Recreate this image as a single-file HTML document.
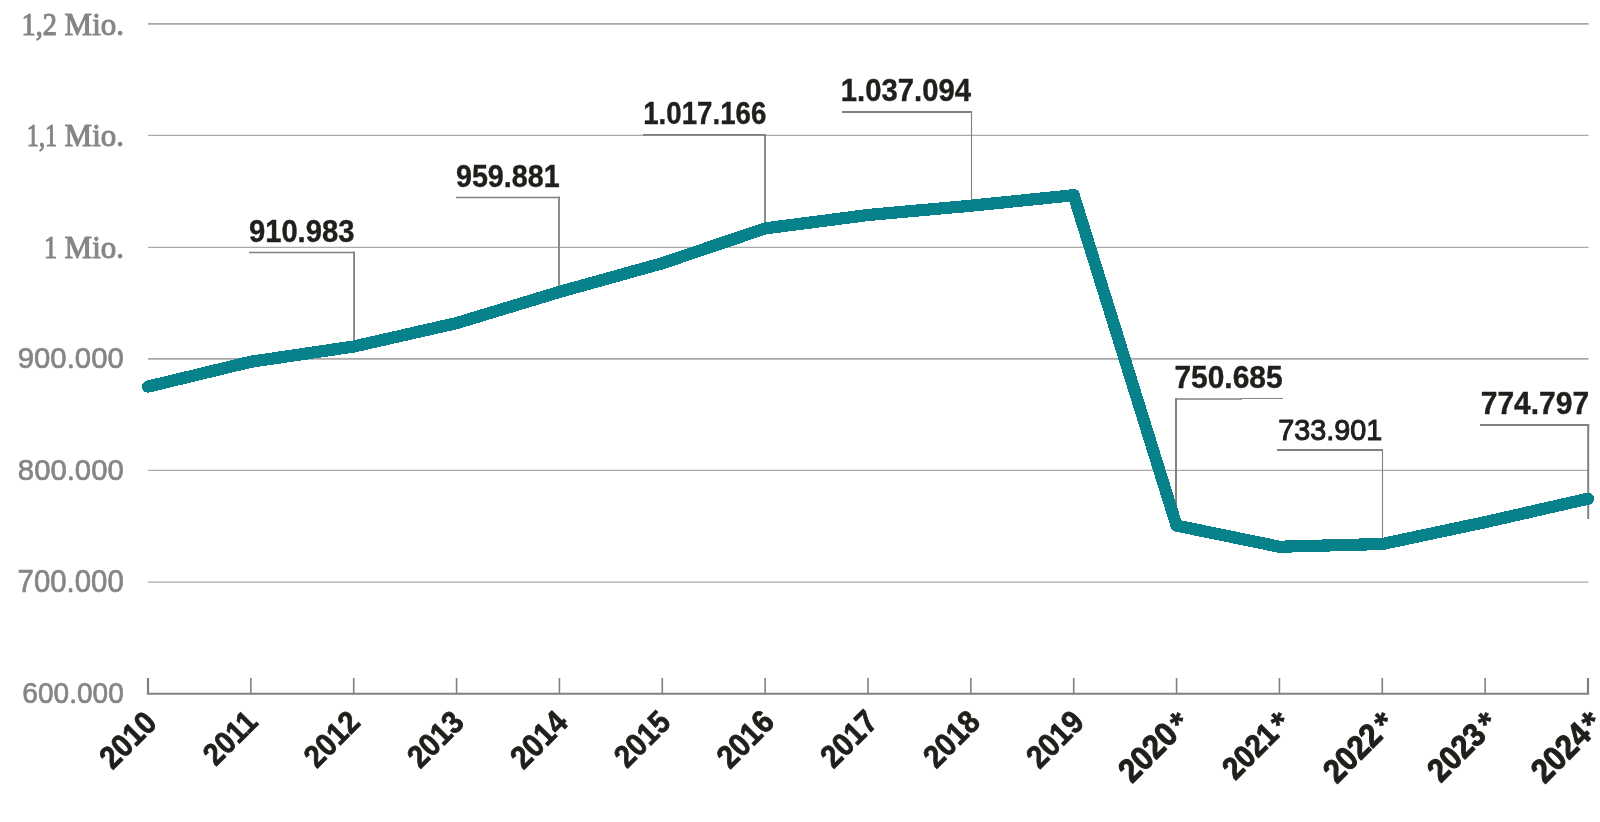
<!DOCTYPE html>
<html><head><meta charset="utf-8"><title>Chart</title>
<style>html,body{margin:0;padding:0;background:#fff;overflow:hidden;}svg{display:block;will-change:transform;}</style></head><body>
<svg width="1600" height="822" viewBox="0 0 1600 822" font-family="Liberation Sans, sans-serif">
<rect width="1600" height="822" fill="#fff"/>
<g stroke="#a9a9a9" fill="none">
<line x1="148" x2="1588.6" y1="23.9" y2="23.9" stroke-width="1.8"/>
<line x1="148" x2="1588.6" y1="135.4" y2="135.4" stroke-width="1.2"/>
<line x1="148" x2="1588.6" y1="247.3" y2="247.3" stroke-width="1.2"/>
<line x1="148" x2="1588.6" y1="358.9" y2="358.9" stroke-width="1.6"/>
<line x1="148" x2="1588.6" y1="470.4" y2="470.4" stroke-width="1.2"/>
<line x1="148" x2="1588.6" y1="582.2" y2="582.2" stroke-width="1.2"/>
</g>
<text transform="translate(21.55 34.50) scale(0.9155 0.9907)" font-family="Liberation Serif, serif" font-weight="normal" font-size="31" fill="#858585" stroke="#858585" stroke-width="1.1" stroke-linejoin="round">1,2</text>
<text transform="translate(26.84 145.50) scale(0.7801 0.9907)" font-family="Liberation Serif, serif" font-weight="normal" font-size="31" fill="#858585" stroke="#858585" stroke-width="1.1" stroke-linejoin="round">1,1</text>
<text transform="translate(43.99 257.50) scale(0.8500 0.9907)" font-family="Liberation Serif, serif" font-weight="normal" font-size="31" fill="#858585" stroke="#858585" stroke-width="1.1" stroke-linejoin="round">1</text>
<text transform="translate(64.62 34.50) scale(1.0000 1.0024)" font-family="Liberation Serif, serif" font-weight="normal" font-size="31" fill="#858585" stroke="#858585" stroke-width="1.0" stroke-linejoin="round">Mio.</text>
<text transform="translate(64.62 145.50) scale(1.0000 1.0024)" font-family="Liberation Serif, serif" font-weight="normal" font-size="31" fill="#858585" stroke="#858585" stroke-width="1.0" stroke-linejoin="round">Mio.</text>
<text transform="translate(64.62 257.50) scale(1.0000 1.0024)" font-family="Liberation Serif, serif" font-weight="normal" font-size="31" fill="#858585" stroke="#858585" stroke-width="1.0" stroke-linejoin="round">Mio.</text>
<text transform="translate(17.74 368.39) scale(0.9462 0.9724)" font-family="Liberation Sans, sans-serif" font-weight="normal" font-size="31" fill="#858585" stroke="#858585" stroke-width="0.7" stroke-linejoin="round">900.000</text>
<text transform="translate(17.85 480.39) scale(0.9451 0.9724)" font-family="Liberation Sans, sans-serif" font-weight="normal" font-size="31" fill="#858585" stroke="#858585" stroke-width="0.7" stroke-linejoin="round">800.000</text>
<text transform="translate(17.62 591.62) scale(0.9473 1.0000)" font-family="Liberation Sans, sans-serif" font-weight="normal" font-size="31" fill="#858585" stroke="#858585" stroke-width="0.7" stroke-linejoin="round">700.000</text>
<text transform="translate(22.37 703.39) scale(0.9045 0.9724)" font-family="Liberation Sans, sans-serif" font-weight="normal" font-size="31" fill="#858585" stroke="#858585" stroke-width="0.7" stroke-linejoin="round">600.000</text>
<g stroke="#808080" fill="none">
<line x1="249" x2="355" y1="252.5" y2="252.5" stroke-width="1.3"/>
<line x1="354.1" x2="354.1" y1="251.85" y2="346.52" stroke-width="1.8"/>
<line x1="456" x2="560" y1="197.5" y2="197.5" stroke-width="1.3"/>
<line x1="559.0" x2="559.0" y1="196.85" y2="291.93" stroke-width="1.8"/>
<line x1="643" x2="766" y1="134.8" y2="134.8" stroke-width="1.8"/>
<line x1="765.0" x2="765.0" y1="133.90" y2="228.40" stroke-width="1.8"/>
<line x1="842" x2="972" y1="112.0" y2="112.0" stroke-width="1.9"/>
<line x1="971.5" x2="971.5" y1="111.05" y2="205.73" stroke-width="1.1"/>
<line x1="1277" x2="1383" y1="450.0" y2="450.0" stroke-width="2.0"/>
<line x1="1382.5" x2="1382.5" y1="449.00" y2="544.00" stroke-width="1.1"/>
<line x1="1480" x2="1589.2" y1="425.0" y2="425.0" stroke-width="2.0"/>
<line x1="1588.2" x2="1588.2" y1="424.00" y2="519.00" stroke-width="2.0"/>
<line x1="1175" x2="1242" y1="399" y2="399" stroke-width="1.6"/>
<line x1="1242" x2="1283" y1="398.5" y2="398.5" stroke-width="1"/>
<line x1="1176" x2="1176" y1="398.2" y2="525.60" stroke-width="2"/>
</g>
<g stroke="#808080" fill="none">
<line x1="146.9" x2="1589.1" y1="693.75" y2="693.75" stroke-width="2.2"/>
<line x1="148.00" x2="148.00" y1="678" y2="693.75" stroke-width="2.2"/>
<line x1="250.86" x2="250.86" y1="678" y2="693.75" stroke-width="1.6"/>
<line x1="353.71" x2="353.71" y1="678" y2="693.75" stroke-width="1.6"/>
<line x1="456.57" x2="456.57" y1="678" y2="693.75" stroke-width="1.6"/>
<line x1="559.43" x2="559.43" y1="678" y2="693.75" stroke-width="1.6"/>
<line x1="662.29" x2="662.29" y1="678" y2="693.75" stroke-width="1.6"/>
<line x1="765.14" x2="765.14" y1="678" y2="693.75" stroke-width="1.6"/>
<line x1="868.00" x2="868.00" y1="678" y2="693.75" stroke-width="1.6"/>
<line x1="970.86" x2="970.86" y1="678" y2="693.75" stroke-width="1.6"/>
<line x1="1073.71" x2="1073.71" y1="678" y2="693.75" stroke-width="1.6"/>
<line x1="1176.57" x2="1176.57" y1="678" y2="693.75" stroke-width="1.6"/>
<line x1="1279.43" x2="1279.43" y1="678" y2="693.75" stroke-width="1.6"/>
<line x1="1382.29" x2="1382.29" y1="678" y2="693.75" stroke-width="1.6"/>
<line x1="1485.14" x2="1485.14" y1="678" y2="693.75" stroke-width="1.6"/>
<line x1="1588.00" x2="1588.00" y1="678" y2="693.75" stroke-width="2.2"/>
</g>
<text transform="translate(248.98 242.49) scale(0.9406 1.0279)" font-family="Liberation Sans, sans-serif" font-weight="bold" font-size="31" fill="#1f201c" stroke="#1f201c" stroke-width="0.4" stroke-linejoin="round">910.983</text>
<text transform="translate(455.99 187.49) scale(0.9249 1.0279)" font-family="Liberation Sans, sans-serif" font-weight="bold" font-size="31" fill="#1f201c" stroke="#1f201c" stroke-width="0.4" stroke-linejoin="round">959.881</text>
<text transform="translate(643.24 124.37) scale(0.8924 1.0127)" font-family="Liberation Sans, sans-serif" font-weight="bold" font-size="31" fill="#1f201c" stroke="#1f201c" stroke-width="0.4" stroke-linejoin="round">1.017.166</text>
<text transform="translate(840.85 101.37) scale(0.9440 1.0173)" font-family="Liberation Sans, sans-serif" font-weight="bold" font-size="31" fill="#1f201c" stroke="#1f201c" stroke-width="0.4" stroke-linejoin="round">1.037.094</text>
<text transform="translate(1174.41 388.37) scale(0.9660 1.0220)" font-family="Liberation Sans, sans-serif" font-weight="bold" font-size="31" fill="#1f201c" stroke="#1f201c" stroke-width="0.4" stroke-linejoin="round">750.685</text>
<text transform="translate(1278.27 440.11) scale(0.9289 0.9743)" font-family="Liberation Sans, sans-serif" font-weight="normal" font-size="31" fill="#1f201c" stroke="#1f201c" stroke-width="1.1" stroke-linejoin="round">733.901</text>
<text transform="translate(1480.71 414.37) scale(0.9677 1.0220)" font-family="Liberation Sans, sans-serif" font-weight="bold" font-size="31" fill="#1f201c" stroke="#1f201c" stroke-width="0.4" stroke-linejoin="round">774.797</text>
<path d="M148.00 386.60 L250.86 361.75 L353.71 346.52 L456.57 323.10 L559.43 291.93 L662.29 263.25 L765.14 228.40 L868.00 215.00 L970.86 205.73 L1073.71 195.20 L1176.57 525.60 L1279.43 546.75 L1382.29 544.00 L1485.14 522.15 L1588.00 498.70" fill="none" stroke="#08828a" stroke-width="12.2" stroke-linecap="round" stroke-linejoin="round" shape-rendering="crispEdges"/>
<text transform="translate(135.45 747.62) rotate(-45) scale(0.9389 1.0288)" text-anchor="middle" font-weight="bold" font-size="31" fill="#1f201c" stroke="#1f201c" stroke-width="0.8" stroke-linejoin="round">2010</text>
<text transform="translate(237.61 745.25) rotate(-45) scale(0.9152 1.0028)" text-anchor="middle" font-weight="bold" font-size="31" fill="#1f201c" stroke="#1f201c" stroke-width="0.8" stroke-linejoin="round">2011</text>
<text transform="translate(339.34 746.62) rotate(-45) scale(0.9241 1.0126)" text-anchor="middle" font-weight="bold" font-size="31" fill="#1f201c" stroke="#1f201c" stroke-width="0.8" stroke-linejoin="round">2012</text>
<text transform="translate(442.90 746.77) rotate(-45) scale(0.9337 1.0231)" text-anchor="middle" font-weight="bold" font-size="31" fill="#1f201c" stroke="#1f201c" stroke-width="0.8" stroke-linejoin="round">2013</text>
<text transform="translate(546.45 747.35) rotate(-45) scale(0.9464 1.0370)" text-anchor="middle" font-weight="bold" font-size="31" fill="#1f201c" stroke="#1f201c" stroke-width="0.8" stroke-linejoin="round">2014</text>
<text transform="translate(649.66 746.65) rotate(-45) scale(0.9268 1.0155)" text-anchor="middle" font-weight="bold" font-size="31" fill="#1f201c" stroke="#1f201c" stroke-width="0.8" stroke-linejoin="round">2015</text>
<text transform="translate(753.02 746.88) rotate(-45) scale(0.9485 1.0394)" text-anchor="middle" font-weight="bold" font-size="31" fill="#1f201c" stroke="#1f201c" stroke-width="0.8" stroke-linejoin="round">2016</text>
<text transform="translate(856.50 746.50) rotate(-45) scale(0.9402 1.0302)" text-anchor="middle" font-weight="bold" font-size="31" fill="#1f201c" stroke="#1f201c" stroke-width="0.8" stroke-linejoin="round">2017</text>
<text transform="translate(958.98 746.62) rotate(-45) scale(0.9359 1.0256)" text-anchor="middle" font-weight="bold" font-size="31" fill="#1f201c" stroke="#1f201c" stroke-width="0.8" stroke-linejoin="round">2018</text>
<text transform="translate(1062.59 747.00) rotate(-45) scale(0.9469 1.0375)" text-anchor="middle" font-weight="bold" font-size="31" fill="#1f201c" stroke="#1f201c" stroke-width="0.8" stroke-linejoin="round">2019</text>
<text transform="translate(1155.82 760.25) rotate(-45) scale(0.9763 1.0698)" text-anchor="middle" font-weight="bold" font-size="31" fill="#1f201c" stroke="#1f201c" stroke-width="1.1" stroke-linejoin="round">2020</text>
<text transform="translate(1188.20 730.93) rotate(-45) scale(1.0933)" text-anchor="middle" font-weight="bold" font-size="31" fill="#1f201c" stroke="#1f201c" stroke-width="0.5">*</text>
<text transform="translate(1257.73 758.45) rotate(-45) scale(0.9224 1.0107)" text-anchor="middle" font-weight="bold" font-size="31" fill="#1f201c" stroke="#1f201c" stroke-width="1.1" stroke-linejoin="round">2021</text>
<text transform="translate(1289.43 731.10) rotate(-45) scale(1.1230)" text-anchor="middle" font-weight="bold" font-size="31" fill="#1f201c" stroke="#1f201c" stroke-width="0.5">*</text>
<text transform="translate(1360.39 760.75) rotate(-45) scale(0.9710 1.0640)" text-anchor="middle" font-weight="bold" font-size="31" fill="#1f201c" stroke="#1f201c" stroke-width="1.1" stroke-linejoin="round">2022</text>
<text transform="translate(1393.06 731.30) rotate(-45) scale(1.1195)" text-anchor="middle" font-weight="bold" font-size="31" fill="#1f201c" stroke="#1f201c" stroke-width="0.5">*</text>
<text transform="translate(1464.29 760.10) rotate(-45) scale(0.9612 1.0532)" text-anchor="middle" font-weight="bold" font-size="31" fill="#1f201c" stroke="#1f201c" stroke-width="1.1" stroke-linejoin="round">2023</text>
<text transform="translate(1496.27 730.93) rotate(-45) scale(1.0973)" text-anchor="middle" font-weight="bold" font-size="31" fill="#1f201c" stroke="#1f201c" stroke-width="0.5">*</text>
<text transform="translate(1568.67 760.62) rotate(-45) scale(0.9847 1.0790)" text-anchor="middle" font-weight="bold" font-size="31" fill="#1f201c" stroke="#1f201c" stroke-width="1.1" stroke-linejoin="round">2024</text>
<text transform="translate(1600.73 731.43) rotate(-45) scale(1.1459)" text-anchor="middle" font-weight="bold" font-size="31" fill="#1f201c" stroke="#1f201c" stroke-width="0.5">*</text>
</svg></body></html>
